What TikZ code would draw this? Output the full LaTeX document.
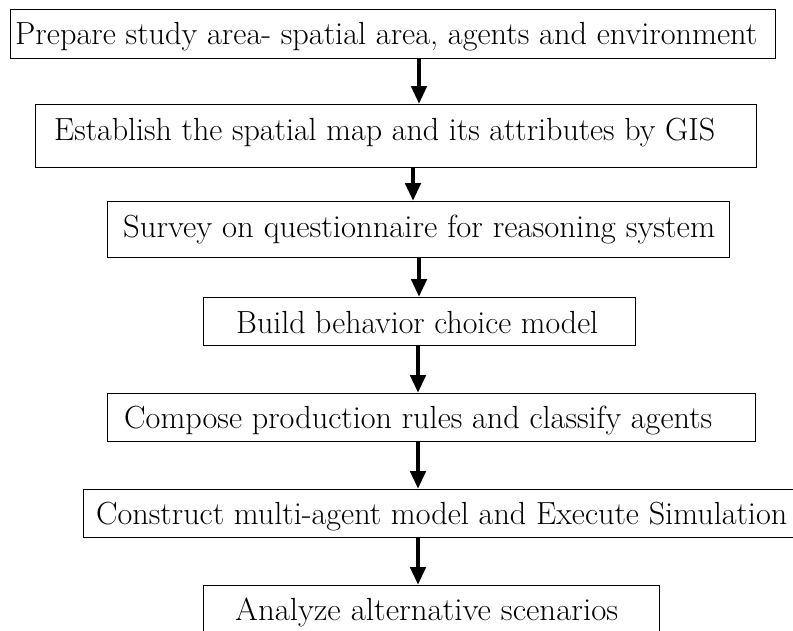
\documentclass[tikz,border=0pt]{standalone}
\usepackage{fontspec}
\usepackage{graphicx}
\usetikzlibrary{arrows.meta}
\newcommand{\fitw}[2]{\resizebox{#1}{\height}{#2}}
\begin{document}
\begin{tikzpicture}[x=1pt,y=-1pt,
  box/.style={draw, line width=1.3pt, inner sep=0pt, anchor=north west},
  lbl/.style={anchor=base west, inner sep=0pt, font=\fontsize{32}{38}\selectfont},
  arr/.style={line width=4.5pt, -{Triangle[width=15pt,length=18pt]}}]
\useasboundingbox (0,0) rectangle (793,630);
\clip (0,0) rectangle (793,630);
\node[box, minimum width=765pt, minimum height=49pt] (b1) at (10,9) {};
\node[box, minimum width=721pt, minimum height=63pt] (b2) at (35,104) {};
\node[box, minimum width=622pt, minimum height=56pt] (b3) at (107,201) {};
\node[box, minimum width=432pt, minimum height=48pt] (b4) at (203,297) {};
\node[box, minimum width=648pt, minimum height=48pt] (b5) at (107,393) {};
\node[box, minimum width=740pt, minimum height=48pt] (b6) at (83,489) {};
\node[box, minimum width=456pt, minimum height=60pt] (b7) at (203,585) {};
\node[lbl] (t1) at (15,44) {\fitw{742pt}{Prepare study area- spatial area, agents and environment}};
\node[lbl] (t2) at (54,140) {\fitw{661pt}{Establish the spatial map and its attributes by GIS}};
\node[lbl] (t3) at (123,237) {\fitw{592pt}{Survey on questionnaire for reasoning system}};
\node[lbl] (t4) at (236,333) {\fitw{362pt}{Build behavior choice model}};
\node[lbl] (t5) at (124,428) {\fitw{588pt}{Compose production rules and classify agents}};
\node[lbl] (t6) at (96,524) {\fitw{691pt}{Construct multi-agent model and Execute Simulation}};
\node[lbl] (t7) at (235,620) {\fitw{383pt}{Analyze alternative scenarios}};
\draw[arr] (b1.south -| 419,0) -- (b2.north -| 419,0);
\draw[arr] (b2.south -| 413,0) -- (b3.north -| 413,0);
\draw[arr] (b3.south -| 419,0) -- (b4.north -| 419,0);
\draw[arr] (b4.south -| 418,0) -- (b5.north -| 418,0);
\draw[arr] (b5.south -| 418,0) -- (b6.north -| 418,0);
\draw[arr] (b6.south -| 418,0) -- (b7.north -| 418,0);
\end{tikzpicture}
\end{document}
